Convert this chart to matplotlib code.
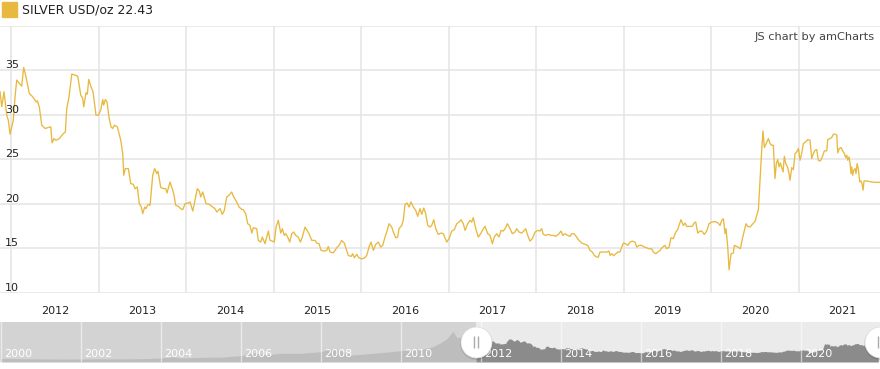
import matplotlib.pyplot as plt
from matplotlib.patches import Rectangle
from matplotlib.transforms import offset_copy

# Silver price (USD/oz), decimal year vs price
years = [
    2011.874, 2011.894, 2011.920, 2011.951, 2011.969, 2011.989,
    2012.026, 2012.046, 2012.065, 2012.095, 2012.122, 2012.145, 2012.171, 2012.209, 2012.248, 2012.286,
    2012.301, 2012.323, 2012.351, 2012.389, 2012.426, 2012.454, 2012.469, 2012.491, 2012.514, 2012.552,
    2012.591, 2012.621, 2012.637, 2012.663, 2012.694, 2012.731, 2012.762, 2012.797, 2012.819, 2012.831,
    2012.857, 2012.872, 2012.888, 2012.914, 2012.937, 2012.971, 2012.998,
    2013.025, 2013.048, 2013.059, 2013.078, 2013.097, 2013.120, 2013.143, 2013.162, 2013.181, 2013.215,
    2013.254, 2013.277, 2013.288, 2013.306, 2013.341, 2013.368, 2013.398, 2013.417, 2013.443, 2013.466,
    2013.489, 2013.505, 2013.528, 2013.543, 2013.566, 2013.589, 2013.619, 2013.642, 2013.665, 2013.680,
    2013.711, 2013.749, 2013.768, 2013.783, 2013.817, 2013.848, 2013.863, 2013.882, 2013.912, 2013.939,
    2013.962, 2013.989,
    2014.026, 2014.046, 2014.077, 2014.099, 2014.129, 2014.152, 2014.168, 2014.191, 2014.229, 2014.266,
    2014.305, 2014.331, 2014.351, 2014.389, 2014.415, 2014.438, 2014.465, 2014.491, 2014.522, 2014.541,
    2014.579, 2014.606, 2014.637, 2014.655, 2014.682, 2014.705, 2014.731, 2014.751, 2014.769, 2014.808,
    2014.826, 2014.854, 2014.872, 2014.903, 2014.922, 2014.941, 2014.960, 2014.986,
    2015.009, 2015.029, 2015.055, 2015.082, 2015.101, 2015.123, 2015.139, 2015.162, 2015.185, 2015.208,
    2015.231, 2015.254, 2015.283, 2015.306, 2015.329, 2015.360, 2015.383, 2015.406, 2015.437, 2015.474,
    2015.494, 2015.520, 2015.543, 2015.581, 2015.608, 2015.626, 2015.646, 2015.683, 2015.703, 2015.722,
    2015.749, 2015.779, 2015.809, 2015.829, 2015.855, 2015.886, 2015.905, 2015.923, 2015.951, 2015.969,
    2015.989,
    2016.008, 2016.038, 2016.065, 2016.091, 2016.114, 2016.141, 2016.168, 2016.198, 2016.225, 2016.248,
    2016.274, 2016.297, 2016.320, 2016.351, 2016.369, 2016.397, 2016.419, 2016.434, 2016.465, 2016.483,
    2016.503, 2016.526, 2016.549, 2016.571, 2016.598, 2016.625, 2016.648, 2016.674, 2016.694, 2016.717,
    2016.739, 2016.762, 2016.789, 2016.808, 2016.831, 2016.854, 2016.883, 2016.914, 2016.941, 2016.979,
    2017.006, 2017.037, 2017.066, 2017.094, 2017.120, 2017.143, 2017.169, 2017.189, 2017.219, 2017.246,
    2017.265, 2017.283, 2017.311, 2017.341, 2017.371, 2017.398, 2017.417, 2017.448, 2017.474, 2017.501,
    2017.523, 2017.551, 2017.577, 2017.600, 2017.626, 2017.646, 2017.672, 2017.703, 2017.729, 2017.760,
    2017.779, 2017.806, 2017.837, 2017.866, 2017.882, 2017.905, 2017.931, 2017.958, 2017.989,
    2018.019, 2018.046, 2018.065, 2018.083, 2018.111, 2018.141, 2018.171, 2018.198, 2018.225, 2018.255,
    2018.286, 2018.305, 2018.331, 2018.362, 2018.389, 2018.408, 2018.434, 2018.465, 2018.491, 2018.522,
    2018.560, 2018.591, 2018.617, 2018.643, 2018.666, 2018.694, 2018.712, 2018.731, 2018.769, 2018.808,
    2018.834, 2018.846, 2018.865, 2018.888, 2018.911, 2018.934, 2018.960, 2018.979, 2018.998,
    2019.025, 2019.048, 2019.074, 2019.101, 2019.131, 2019.151, 2019.177, 2019.208, 2019.238, 2019.265,
    2019.291, 2019.322, 2019.341, 2019.368, 2019.391, 2019.417, 2019.429, 2019.455, 2019.474, 2019.494,
    2019.520, 2019.543, 2019.569, 2019.597, 2019.619, 2019.634, 2019.657, 2019.683, 2019.703, 2019.722,
    2019.760, 2019.786, 2019.809, 2019.825, 2019.848, 2019.874, 2019.894, 2019.923, 2019.951, 2019.977,
    2020.008, 2020.046, 2020.077, 2020.103, 2020.122, 2020.141, 2020.160, 2020.171, 2020.191, 2020.206,
    2020.229, 2020.255, 2020.266, 2020.294, 2020.320, 2020.335, 2020.358, 2020.381, 2020.400, 2020.419,
    2020.446, 2020.472, 2020.503, 2020.522, 2020.541, 2020.560, 2020.579, 2020.594, 2020.609, 2020.629,
    2020.655, 2020.674, 2020.694, 2020.712, 2020.731, 2020.746, 2020.762, 2020.777, 2020.792, 2020.808,
    2020.823, 2020.838, 2020.854, 2020.877, 2020.891, 2020.903, 2020.922, 2020.941, 2020.960, 2020.979,
    2020.998,
    2021.017, 2021.037, 2021.055, 2021.082, 2021.105, 2021.131, 2021.151, 2021.169, 2021.189, 2021.208,
    2021.226, 2021.249, 2021.272, 2021.295, 2021.322, 2021.334, 2021.360, 2021.379, 2021.398, 2021.417,
    2021.437, 2021.448, 2021.466, 2021.486, 2021.501, 2021.523, 2021.539, 2021.551, 2021.562, 2021.577,
    2021.589, 2021.600, 2021.608, 2021.619, 2021.631, 2021.646, 2021.657, 2021.669, 2021.683, 2021.699,
    2021.714, 2021.726, 2021.737, 2021.749, 2021.779, 2021.837, 2021.894, 2021.931,
]
prices = [
    32.57, 30.88, 32.57, 29.94, 29.38, 27.81,
    29.38, 32.00, 33.88, 33.50, 33.20, 35.30, 34.25, 32.38, 32.00, 31.44,
    31.55, 30.88, 28.82, 28.45, 28.56, 28.63, 26.84, 27.32, 27.13, 27.32,
    27.81, 28.07, 30.69, 32.00, 34.55, 34.44, 34.33, 32.19, 31.82, 30.88,
    32.45, 32.30, 33.95, 33.13, 32.57, 29.94, 29.94,
    30.51, 31.70, 31.07, 31.70, 31.44, 29.68, 28.63, 28.45, 28.82, 28.63,
    27.13, 25.64, 23.20, 23.95, 23.95, 22.27, 22.19, 21.70, 21.89, 20.02,
    19.64, 18.90, 19.64, 19.46, 19.94, 19.83, 23.20, 23.95, 23.39, 23.65,
    21.82, 21.70, 21.70, 21.22, 22.45, 21.52, 20.96, 19.83, 19.72, 19.46,
    19.34, 20.02,
    20.09, 20.21, 19.19, 20.21, 21.70, 21.44, 20.77, 21.33, 20.02, 19.94,
    19.64, 19.46, 19.08, 19.46, 18.82, 19.27, 20.77, 20.96, 21.33, 20.84,
    20.21, 19.64, 19.38, 19.34, 18.90, 17.77, 17.58, 16.72, 17.32, 17.21,
    15.90, 15.71, 16.27, 15.52, 16.27, 16.95, 15.90, 15.82,
    15.71, 17.40, 18.15, 16.72, 17.21, 16.46, 16.65, 16.27, 15.71, 16.65,
    16.84, 16.46, 16.27, 15.71, 16.27, 17.40, 17.02, 16.65, 15.90, 15.90,
    15.60, 15.52, 14.78, 14.70, 14.78, 15.22, 14.59, 14.51, 14.78, 15.07,
    15.34, 15.90, 15.60, 14.96, 14.21, 14.10, 14.40, 13.95, 14.33, 14.03,
    13.88,
    13.84, 13.91, 14.21, 15.15, 15.71, 14.78, 15.45, 15.71, 15.15, 15.34,
    16.27, 16.95, 17.77, 17.40, 16.84, 16.20, 16.27, 17.21, 17.58, 18.15,
    19.94, 20.09, 19.64, 20.21, 19.64, 19.27, 18.60, 19.46, 18.82, 19.53,
    18.90, 17.58, 17.40, 17.58, 18.22, 17.21, 16.57, 16.72, 16.65, 15.71,
    16.09, 16.95, 17.10, 17.77, 17.96, 18.22, 17.77, 17.02, 17.77, 18.15,
    17.96, 18.45, 17.21, 16.27, 16.72, 17.21, 17.47, 16.65, 16.46, 15.52,
    16.27, 16.65, 16.27, 17.02, 16.95, 17.21, 17.77, 17.21, 16.65, 16.84,
    17.21, 16.84, 16.72, 17.02, 17.21, 16.46, 15.82, 16.09, 16.84,
    17.02, 16.95, 17.21, 16.57, 16.46, 16.57, 16.46, 16.46, 16.35, 16.57,
    16.95, 16.46, 16.65, 16.46, 16.35, 16.65, 16.65, 16.27, 15.90, 15.60,
    15.45, 15.34, 14.78, 14.59, 14.21, 14.03, 14.03, 14.59, 14.59, 14.59,
    14.70, 14.21, 14.40, 14.18, 14.40, 14.59, 14.59, 15.15, 15.60,
    15.52, 15.34, 15.71, 15.82, 15.71, 15.15, 15.34, 15.34, 15.15, 15.07,
    14.96, 14.96, 14.59, 14.40, 14.59, 14.78, 14.96, 15.22, 15.34, 14.96,
    15.15, 16.20, 16.09, 16.84, 17.10, 17.58, 18.22, 17.58, 17.85, 17.47,
    17.47, 17.47, 17.88, 17.96, 16.72, 16.95, 16.95, 16.57, 16.95, 17.77,
    17.96, 18.00, 17.88, 17.58, 18.15, 18.33, 16.65, 17.21, 15.15, 12.60,
    14.40, 14.48, 15.34, 15.22, 15.07, 14.96, 16.09, 17.02, 17.77, 17.47,
    17.40, 17.70, 18.03, 18.71, 19.34, 22.64, 26.01, 28.18, 26.31, 26.76,
    27.32, 26.76, 26.57, 26.57, 22.83, 24.51, 24.96, 24.14, 24.59, 24.06,
    23.58, 25.34, 24.51, 24.06, 23.39, 22.64, 24.06, 23.84, 25.64, 25.82,
    26.20,
    24.89, 25.71, 26.76, 26.95, 27.21, 27.13, 25.07, 25.64, 26.01, 26.09,
    24.89, 24.81, 25.26, 25.94, 25.94, 27.21, 27.32, 27.43, 27.81, 27.81,
    27.70, 25.71, 26.20, 26.31, 26.01, 25.64, 25.19, 25.45, 24.89, 25.26,
    24.51, 23.39, 24.14, 23.20, 23.76, 23.95, 23.39, 24.51, 23.95, 22.45,
    22.57, 22.27, 21.52, 22.57, 22.57, 22.45, 22.40, 22.43,
]

# earlier history, only visible in the scrollbar
hist_years = [2000.0, 2000.5, 2001.0, 2001.5, 2002.0, 2002.5, 2003.0, 2003.5, 2004.0, 2004.3,
              2004.5, 2005.0, 2005.5, 2006.0, 2006.35, 2006.6, 2007.0, 2007.5, 2008.0, 2008.2,
              2008.5, 2008.8, 2009.0, 2009.5, 2010.0, 2010.5, 2010.8, 2011.0, 2011.15, 2011.3,
              2011.4, 2011.6, 2011.75]
hist_prices = [5.3, 5.0, 4.6, 4.4, 4.5, 4.8, 4.7, 5.0, 6.0, 7.8,
               6.0, 7.0, 7.3, 9.5, 13.5, 11.0, 13.0, 13.0, 15.5, 19.5,
               17.0, 10.5, 11.5, 14.0, 17.0, 18.5, 23.0, 29.0, 35.0, 46.0,
               36.0, 40.0, 31.0]

y_ticks = [10, 15, 20, 25, 30, 35]
year_labels = list(range(2012, 2022))
scroll_labels = list(range(2000, 2021, 2))
series_name = 'SILVER USD/oz'
last_price = 22.43

line_color = '#e8b93f'
grid_color = '#e4e4e4'
W, H = 880, 369

fig = plt.figure(figsize=(W / 100, H / 100), dpi=100)

# main chart
ax = fig.add_axes([0, 1 - 293 / H, 1, 267.5 / H])
ax.plot(years, prices, color=line_color, lw=0.95, zorder=3)
ax.set_xlim(years[0], years[-1])
ax.set_ylim(10, 40)
for s in ax.spines.values():
    s.set_visible(False)
ax.set_yticks(range(10, 41, 5))
ax.set_yticklabels([])
ax.set_xticks(range(2012, 2022))
ax.set_xticklabels([])
ax.set_xticks([y + 0.5 for y in year_labels], minor=True)
ax.set_xticklabels([str(y) for y in year_labels], minor=True, fontsize=8, color='#222222')
ax.tick_params(which='both', length=0)
ax.tick_params(axis='x', which='minor', pad=9)
ax.grid(True, color=grid_color, lw=1.1)
ax.set_axisbelow(True)

trans = offset_copy(ax.get_yaxis_transform(), fig=fig, x=0, y=2, units='dots')
for v in y_ticks:
    ax.text(0.006, v, str(v), transform=trans, fontsize=8, color='#222222',
            ha='left', va='baseline')

# legend and credit
fig.add_artist(Rectangle((2 / W, 1 - 17 / H), 15 / W, 15 / H,
                         transform=fig.transFigure, color=line_color))
fig.text(22 / W, 1 - 10 / H, f'{series_name} {last_price:.2f}', fontsize=9,
         color='#222222', va='center', ha='left')
fig.text(875 / W, 1 - 37 / H, 'JS chart by amCharts', fontsize=8.2,
         color='#444444', va='center', ha='right')

# scrollbar
sax = fig.add_axes([0, 1 - 362 / H, 1, 40 / H])
x0, x1 = 1999.975, 2021.975
sel = years[0]
sax.set_xlim(x0, x1)
sax.set_ylim(0, 60)
sax.axis('off')
sax.axvspan(x0, sel, color='#d3d3d3', lw=0)
sax.axvspan(sel, x1, color='#ebebeb', lw=0)
sax.fill_between(hist_years + [years[0]], 0, hist_prices + [prices[0]], color='#bdbdbd', lw=0)
sax.fill_between(years, 0, prices, color='#8b8b8b', lw=0)
for y in scroll_labels:
    sax.axvline(y, color='white', lw=1, alpha=0.55)
    sax.text(y + 0.075, 0.125, str(y), transform=sax.get_xaxis_transform(),
             fontsize=8, color='white', ha='left', va='baseline')

# grips
gt = sax.get_xaxis_transform()
for gx in (sel, x1):
    sh = offset_copy(gt, fig=fig, x=0, y=-1, units='dots')
    sax.plot([gx], [0.5], 'o', ms=23.5, color='#000000', alpha=0.12, mew=0,
             transform=sh, clip_on=False, zorder=5)
    sax.plot([gx], [0.5], 'o', ms=22.3, color='white', mec='#dddddd', mew=0.5,
             transform=gt, clip_on=False, zorder=6)
    for dx in (-2, 2):
        tr = offset_copy(gt, fig=fig, x=dx, y=0, units='dots')
        sax.plot([gx], [0.5], '|', ms=8, mew=1, color='#aaaaaa',
                 transform=tr, clip_on=False, zorder=7)

fig.savefig('out.png', dpi=100)
